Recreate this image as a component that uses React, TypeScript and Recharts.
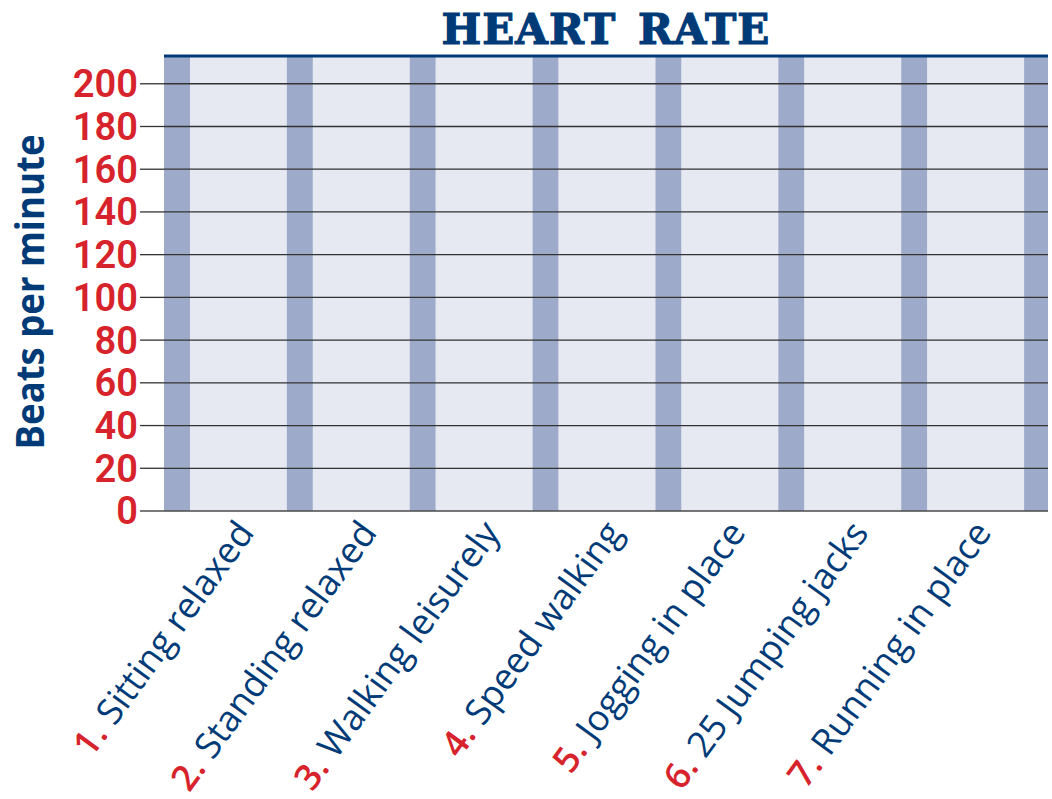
import React from 'react';
import {
  BarChart,
  Bar,
  XAxis,
  YAxis,
  CartesianGrid,
  ReferenceLine,
} from 'recharts';

const ACTIVITIES = [
  'Sitting relaxed',
  'Standing relaxed',
  'Walking leisurely',
  'Speed walking',
  'Jogging in place',
  '25 Jumping jacks',
  'Running in place',
];
const STEP_NUMBERS = ['1.', '2.', '3.', '4.', '5.', '6.', '7.'];
const Y_TICKS = [0, 20, 40, 60, 80, 100, 120, 140, 160, 180, 200];
const Y_MAX = 213;

const NAVY = '#003B78';
const RED = '#D7232B';

// blank worksheet: every column is a full-height stripe + light panel.
// one extra empty slot at the end gets clipped so only its stripe edge shows
const data = [...ACTIVITIES, ''].map((name) => ({
  name,
  stripe: Y_MAX,
  panel: Y_MAX,
}));

const ActivityTick = (props: any) => {
  const { x, y, payload } = props;
  if (!payload.value) return null;
  const idx = ACTIVITIES.indexOf(payload.value);
  return (
    <g transform={`translate(${x + 30},${y + 22})`}>
      <text
        transform="rotate(-54)"
        textAnchor="end"
        fontSize={36}
        fontFamily="'Open Sans', sans-serif"
      >
        <tspan fill={RED} fontWeight={600}>{STEP_NUMBERS[idx]}</tspan>
        <tspan fill={NAVY}> {payload.value}</tspan>
      </text>
    </g>
  );
};

const HeartRateChart: React.FC = () => {
  return (
    <div
      style={{
        position: 'absolute',
        left: 0,
        top: 0,
        width: 1048,
        height: 799,
        overflow: 'hidden',
        background: '#fff',
      }}
    >
      {/* Title */}
      <div
        style={{
          position: 'absolute',
          left: 164,
          width: 884,
          top: 9,
          textAlign: 'center',
          fontFamily: "'DejaVu Serif', serif",
          fontWeight: 700,
          fontSize: 42,
          lineHeight: '42px',
          letterSpacing: 1,
          wordSpacing: 6,
          color: NAVY,
          WebkitTextStroke: `1.2px ${NAVY}`,
        }}
      >
        HEART RATE
      </div>

      <BarChart
        width={1147}
        height={799}
        data={data}
        margin={{ top: 56, right: 0, bottom: 0, left: 0 }}
        barCategoryGap={0}
        barGap={0}
      >
        <CartesianGrid fill="#E6E9F2" horizontal={false} vertical={false} />
        <XAxis
          dataKey="name"
          interval={0}
          height={288}
          tickSize={0}
          tickMargin={0}
          axisLine={{ stroke: '#4a4a4a', strokeWidth: 1.5 }}
          tick={<ActivityTick />}
        />
        <YAxis
          width={164}
          domain={[0, Y_MAX]}
          ticks={Y_TICKS}
          interval={0}
          tickSize={24}
          tickMargin={2}
          axisLine={false}
          tickLine={{ stroke: '#333', strokeWidth: 1.3 }}
          tick={{
            fill: RED,
            fontSize: 38,
            fontWeight: 600,
            fontFamily: 'Roboto, sans-serif',
          }}
          label={{
            content: () => (
              <text
                x={44}
                y={292}
                transform="rotate(-90 44 292)"
                textAnchor="middle"
                fill={NAVY}
                fontSize={40}
                fontWeight={700}
                fontFamily="'Open Sans', sans-serif"
                textLength={315}
                lengthAdjust="spacingAndGlyphs"
              >
                Beats per minute
              </text>
            ),
          }}
        />
        <Bar dataKey="stripe" barSize={26} fill="#9DAAC9" isAnimationActive={false} />
        <Bar dataKey="panel" barSize={96} fill="#E6E9F2" isAnimationActive={false} />
        {Y_TICKS.filter((t) => t > 0).map((t) => (
          <ReferenceLine key={t} y={t} stroke="#333" strokeWidth={1.3} />
        ))}
        <ReferenceLine y={Y_MAX} stroke={NAVY} strokeWidth={3} />
      </BarChart>
    </div>
  );
};

export default function App() {
  return <HeartRateChart />;
}
